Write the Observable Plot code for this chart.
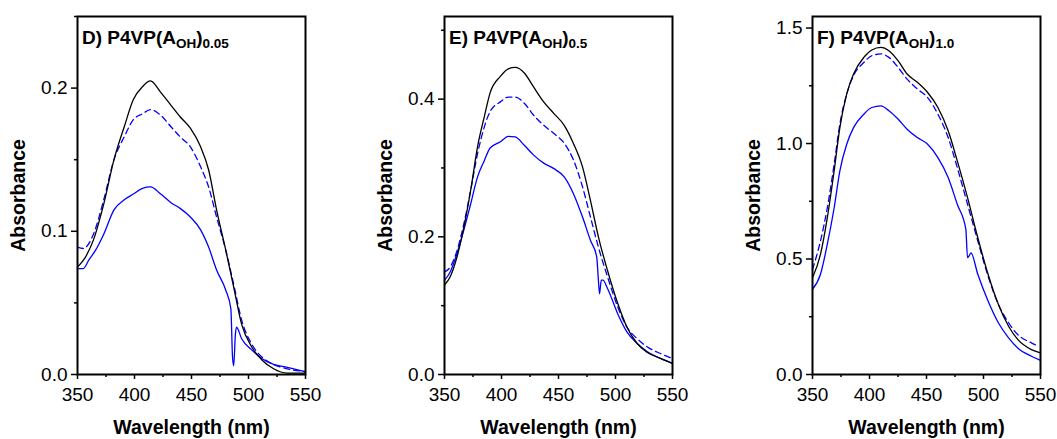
<!DOCTYPE html>
<html><head><meta charset="utf-8">
<script src="https://cdn.jsdelivr.net/npm/d3@7"></script>
<script src="https://cdn.jsdelivr.net/npm/@observablehq/plot@0.6"></script>
<style>
body{margin:0;background:#fff;font-family:"Liberation Sans",Arial,sans-serif;}
#wrap{position:relative;width:1057px;height:439px;background:#fff;}
.panel{position:absolute;top:0;}
</style></head><body><div id="wrap"></div>
<script>
// ---- Data (wavelength nm, absorbance) ----
const xMajor = [350, 400, 450, 500, 550];
const xMinor = [375, 425, 475, 525];

// Panel D: P4VP(A_OH)0.05
const dBlack = [[350,0.075],[357,0.082],[364,0.094],[373,0.119],[382,0.150],[391,0.173],[399,0.192],[407,0.201],[414,0.205],[423,0.197],[432,0.188],[440,0.180],[449,0.172],[458,0.159],[465,0.143],[472,0.115],[480,0.087],[487,0.061],[494,0.035],[503,0.019],[512,0.010],[522,0.004],[534,0.001],[550,0.001]];
const dDashed = [[350,0.089],[355,0.088],[364,0.098],[373,0.122],[382,0.150],[391,0.166],[399,0.178],[407,0.182],[414,0.185],[423,0.181],[432,0.173],[440,0.166],[449,0.159],[458,0.145],[465,0.131],[472,0.110],[480,0.087],[487,0.063],[494,0.038],[503,0.021],[512,0.012],[522,0.007],[534,0.004],[550,0.002]];
const dBlue = [[350,0.074],[355,0.074],[360,0.080],[366,0.087],[373,0.098],[382,0.115],[391,0.122],[399,0.126],[407,0.130],[414,0.131],[423,0.126],[432,0.120],[440,0.116],[449,0.110],[458,0.101],[465,0.089],[472,0.073],[480,0.059],[484.5,0.046],[486,0.012],[487,0.006],[488.5,0.028],[489.5,0.033],[494,0.025],[503,0.017],[512,0.011],[522,0.007],[534,0.005],[550,0.002]];

// Panel E: P4VP(A_OH)0.5
const eBlack = [[350,0.130],[355,0.142],[361,0.171],[367,0.214],[373,0.268],[379,0.331],[385,0.375],[390,0.409],[399,0.433],[406,0.444],[412,0.446],[420,0.438],[428,0.418],[437,0.396],[446,0.379],[455,0.362],[463,0.336],[471,0.302],[478,0.253],[485,0.200],[493,0.151],[502,0.103],[510,0.069],[519,0.045],[528,0.032],[540,0.023],[550,0.016]];
const eDashed = [[350,0.149],[355,0.156],[361,0.180],[367,0.219],[373,0.268],[379,0.321],[385,0.360],[390,0.382],[399,0.396],[406,0.403],[412,0.403],[420,0.394],[428,0.377],[437,0.362],[446,0.350],[455,0.336],[463,0.312],[471,0.273],[478,0.229],[485,0.185],[493,0.142],[502,0.098],[510,0.069],[519,0.052],[528,0.040],[540,0.030],[550,0.023]];
const eBlue = [[350,0.137],[355,0.149],[361,0.176],[367,0.210],[373,0.248],[379,0.287],[385,0.311],[390,0.329],[399,0.338],[406,0.346],[412,0.345],[420,0.333],[428,0.319],[437,0.307],[446,0.299],[455,0.287],[463,0.263],[471,0.229],[478,0.195],[483.5,0.171],[485,0.137],[486,0.117],[487.5,0.137],[489,0.137],[493,0.125],[502,0.088],[510,0.062],[519,0.045],[528,0.033],[540,0.023],[550,0.016]];

// Panel F: P4VP(A_OH)1.0
const fBlack = [[350,0.419],[357,0.520],[363,0.679],[369,0.882],[374,1.069],[380,1.214],[386,1.301],[395,1.373],[402,1.405],[410,1.416],[417,1.402],[425,1.359],[433,1.301],[442,1.265],[451,1.221],[460,1.156],[469,1.055],[477,0.925],[486,0.766],[495,0.592],[504,0.434],[513,0.304],[522,0.209],[530,0.152],[542,0.108],[550,0.094]];
const fDashed = [[350,0.455],[357,0.578],[363,0.722],[369,0.911],[374,1.084],[380,1.214],[386,1.294],[395,1.351],[402,1.380],[410,1.388],[417,1.373],[425,1.330],[433,1.279],[442,1.236],[451,1.199],[460,1.127],[469,1.026],[477,0.896],[486,0.737],[495,0.578],[504,0.426],[513,0.304],[522,0.224],[530,0.173],[542,0.137],[548,0.123]];
const fBlue = [[350,0.369],[357,0.434],[363,0.564],[369,0.722],[374,0.882],[380,0.997],[386,1.069],[395,1.127],[402,1.156],[410,1.163],[417,1.142],[425,1.106],[433,1.062],[442,1.026],[451,0.997],[460,0.939],[469,0.853],[477,0.737],[484.5,0.629],[486,0.506],[487.5,0.515],[489,0.526],[495,0.434],[504,0.318],[513,0.224],[522,0.159],[530,0.115],[542,0.079],[550,0.061]];

const panels = [
  {left:0, width:352, mL:77, mR:47, yDomain:[0,0.25], yMajor:[0,0.1,0.2], yMinor:[0.05,0.15,0.25], fmt:".1f",
   title:["D) P4VP(A","OH",")","0.05"], black:dBlack, dashed:dDashed, blue:dBlue},
  {left:352, width:352, mL:92, mR:32, yDomain:[0,0.52], yMajor:[0,0.2,0.4], yMinor:[0.1,0.3,0.5], fmt:".1f",
   title:["E) P4VP(A","OH",")","0.5"], black:eBlack, dashed:eDashed, blue:eBlue},
  {left:704, width:353, mL:108, mR:17, yDomain:[0,1.55], yMajor:[0,0.5,1.0,1.5], yMinor:[0.25,0.75,1.25], fmt:".1f",
   title:["F) P4VP(A","OH",")","1.0"], black:fBlack, dashed:fDashed, blue:fBlue}
];

const FONT = '"Liberation Sans", Arial, sans-serif';
const wrap = document.getElementById("wrap");

for (const p of panels) {
  const plot = Plot.plot({
    width: p.width, height: 439,
    marginLeft: p.mL, marginRight: p.mR, marginTop: 16, marginBottom: 65,
    style: {fontFamily: FONT, fontSize: "19px", color: "black", background: "white", overflow: "visible"},
    x: {domain: [350, 550]},
    y: {domain: p.yDomain},
    marks: [
      Plot.axisX(xMajor, {tickSize: 5, tickPadding: 8, strokeWidth: 1.5, label: null, fontSize: 19}),
      Plot.axisX(xMinor, {tickSize: 3, strokeWidth: 1.5, tickFormat: () => "", label: null}),
      Plot.axisY(p.yMajor, {tickSize: 6, tickPadding: 4, strokeWidth: 1.5, tickFormat: d3.format(p.fmt), label: null, fontSize: 19}),
      Plot.axisY(p.yMinor, {tickSize: 3, strokeWidth: 1.5, tickFormat: () => "", label: null}),
      Plot.line(p.blue, {x: d => d[0], y: d => d[1], stroke: "#0000ff", strokeWidth: 1.3, curve: "monotone-x"}),
      Plot.line(p.dashed, {x: d => d[0], y: d => d[1], stroke: "#0000ff", strokeWidth: 1.3, strokeDasharray: "6,4", curve: "monotone-x"}),
      Plot.line(p.black, {x: d => d[0], y: d => d[1], stroke: "black", strokeWidth: 1.3, curve: "monotone-x"}),
      Plot.frame({stroke: "black", strokeWidth: 2}),
      Plot.text(["Absorbance"], {frameAnchor: "left", dx: -59, rotate: -90, fontWeight: "bold", fontSize: 19.5, textAnchor: "middle", lineAnchor: "middle", fill: "black"}),
      Plot.text(["Wavelength (nm)"], {frameAnchor: "bottom", dy: 53, fontWeight: "bold", fontSize: 19.5, lineAnchor: "middle", fill: "black"})
    ]
  });
  const t = d3.select(plot).append("text")
    .attr("x", p.mL + 5).attr("y", 44).attr("text-anchor", "start")
    .attr("font-family", FONT).attr("font-weight", "bold").attr("font-size", 19).attr("fill", "black");
  t.append("tspan").text(p.title[0]);
  t.append("tspan").attr("dy", 4).attr("font-size", 13.5).text(p.title[1]);
  t.append("tspan").attr("dy", -4).text(p.title[2]);
  t.append("tspan").attr("dy", 4).attr("font-size", 13.5).text(p.title[3]);
  const div = document.createElement("div");
  div.className = "panel";
  div.style.left = p.left + "px";
  div.appendChild(plot);
  wrap.appendChild(div);
}
</script></body></html>
